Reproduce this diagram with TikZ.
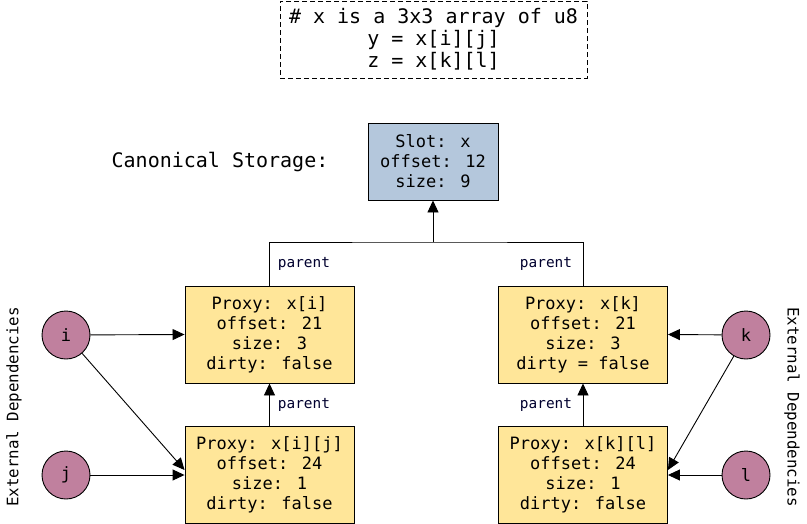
\documentclass[tikz,border=0pt]{standalone}
\usepackage{fontspec}
\setmainfont{DejaVu Sans Mono}
\usepackage{tikz}
\usetikzlibrary{arrows.meta}
\usetikzlibrary{calc}

\definecolor{slotblue}{RGB}{180,199,220}
\definecolor{proxyyellow}{RGB}{255,230,153}
\definecolor{depmauve}{RGB}{192,128,158}

\begin{document}
\begin{tikzpicture}[x=1pt, y=-1pt, line width=0.9pt,
	box/.style={draw, align=center, inner sep=0pt, font=\fontsize{17}{20}\selectfont},
	slotbox/.style={box, fill=slotblue, minimum width=130pt, minimum height=77pt},
	proxybox/.style={box, fill=proxyyellow, minimum width=169pt, minimum height=97pt},
	dep/.style={draw, circle, fill=depmauve, minimum size=48pt, inner sep=0pt, font=\fontsize{17}{20}\selectfont},
	lbl/.style={font=\fontsize{14.4}{16}\selectfont, text=black!70!blue!60!black},
	side/.style={font=\fontsize{15.8}{18}\selectfont},
	link/.style={-{Triangle[length=12pt,width=11pt]}},
]
\useasboundingbox (0,0) rectangle (807,523);

%\node at (433.5,39.5) {...};
\node[draw, dash pattern=on 5pt off 3pt, align=center, minimum width=307pt, minimum height=77pt, inner sep=0pt,
	font=\fontsize{20}{22}\selectfont] (code) at (433.5,39.5)
	{\# x is a 3x3 array of u8\\ y = x[i][j]\\ z = x[k][l]};

\node[font=\fontsize{20}{22}\selectfont] (canon) at (220,162) {Canonical Storage:};
\node[slotbox] (slot) at (433,161.5) {Slot: x\\ offset: 12\\ size: 9};

\node[proxybox] (pxi)  at (269.5,334.5) {Proxy: x[i]\\ offset: 21\\ size: 3\\ dirty: false};
\node[proxybox] (pxij) at (269.5,475)   {Proxy: x[i][j]\\ offset: 24\\ size: 1\\ dirty: false};
\node[proxybox] (pxk)  at (583,334.5)   {Proxy: x[k]\\ offset: 21\\ size: 3\\ dirty = false};
\node[proxybox] (pxkl) at (583,475)     {Proxy: x[k][l]\\ offset: 24\\ size: 1\\ dirty: false};

\node[dep] (i) at (66,335) {i};
\node[dep] (j) at (66,475) {j};
\node[dep] (k) at (746,335) {k};
\node[dep] (l) at (746,475) {l};

\node[side, rotate=90]  (extl) at (14,407)  {External Dependencies};
\node[side, rotate=-90] (extr) at (792,407) {External Dependencies};

% parent links
\coordinate (tee) at (433,242);
\draw (pxi.north) |- (tee) -| (pxk.north);
\draw[link] (tee) -- (slot.south);
\draw[link] (pxij.north) -- (pxi.south);
\draw[link] (pxkl.north) -- (pxk.south);

\node[lbl] (pl1) at (304,264) {parent};
\node[lbl] (pl2) at (546,264) {parent};
\node[lbl] (pl3) at (304,405) {parent};
\node[lbl] (pl4) at (546,405) {parent};

% dependencies
\path[link]
(i) edge (pxi.west)
(i) edge ([yshift=5pt]pxij.west)
(j) edge (pxij.west)
(k) edge (pxk.east)
(k) edge ([yshift=5pt]pxkl.east)
(l) edge (pxkl.east)
;
\end{tikzpicture}
\end{document}
